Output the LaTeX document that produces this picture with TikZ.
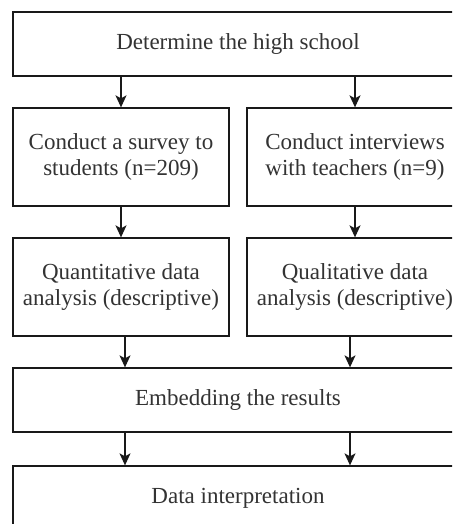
\documentclass[tikz,border=0pt]{standalone}
\usepackage{fontspec}
\setmainfont{Liberation Serif}
\usetikzlibrary{arrows.meta}
\definecolor{txt}{rgb}{0.2,0.2,0.2}
\definecolor{ln}{rgb}{0.1,0.1,0.1}
\begin{document}
\begin{tikzpicture}[x=1pt,y=-1pt,
  box/.style={draw=ln,line width=1.3pt,fill=white,inner sep=0pt,
    align=center,text=txt,font=\fontsize{23}{26.5}\selectfont},
  arr/.style={draw=ln,line width=1.3pt,-{Stealth[length=12pt,width=11pt,inset=3pt]}}]
\useasboundingbox (0,0) rectangle (452,524);
\clip (0,0) rectangle (452,524);
\fill[white] (0,0) rectangle (452,524);
% boxes (corners in px, y downwards)
\node[box,minimum width=450pt,minimum height=64pt] (top) at (238,44) {Determine the high school};
\node[box,minimum width=216pt,minimum height=98pt] (survey) at (121,157) {Conduct a survey to\\students (n=209)};
\node[box,minimum width=216pt,minimum height=98pt] (interv) at (355,157) {Conduct interviews\\with teachers (n=9)};
\node[box,minimum width=216pt,minimum height=98pt] (quant) at (121,287) {Quantitative data\\analysis (descriptive)};
\node[box,minimum width=216pt,minimum height=98pt] (qual) at (355,287) {Qualitative data\\analysis (descriptive)};
\node[box,minimum width=450pt,minimum height=64pt] (embed) at (238,400) {Embedding the results};
\node[box,minimum width=450pt,minimum height=64pt] (interp) at (238,498) {Data interpretation};
% arrows
\draw[arr] (top.south -| survey) -- (survey.north);
\draw[arr] (top.south -| interv) -- (interv.north);
\draw[arr] (survey.south) -- (quant.north);
\draw[arr] (interv.south) -- (qual.north);
\draw[arr] ([xshift=4pt]quant.south) -- ([xshift=4pt]quant.south |- embed.north);
\draw[arr] ([xshift=-5pt]qual.south) -- ([xshift=-5pt]qual.south |- embed.north);
\draw[arr] ([xshift=4pt]quant.south |- embed.south) -- ([xshift=4pt]quant.south |- interp.north);
\draw[arr] ([xshift=-5pt]qual.south |- embed.south) -- ([xshift=-5pt]qual.south |- interp.north);
\end{tikzpicture}
\end{document}
